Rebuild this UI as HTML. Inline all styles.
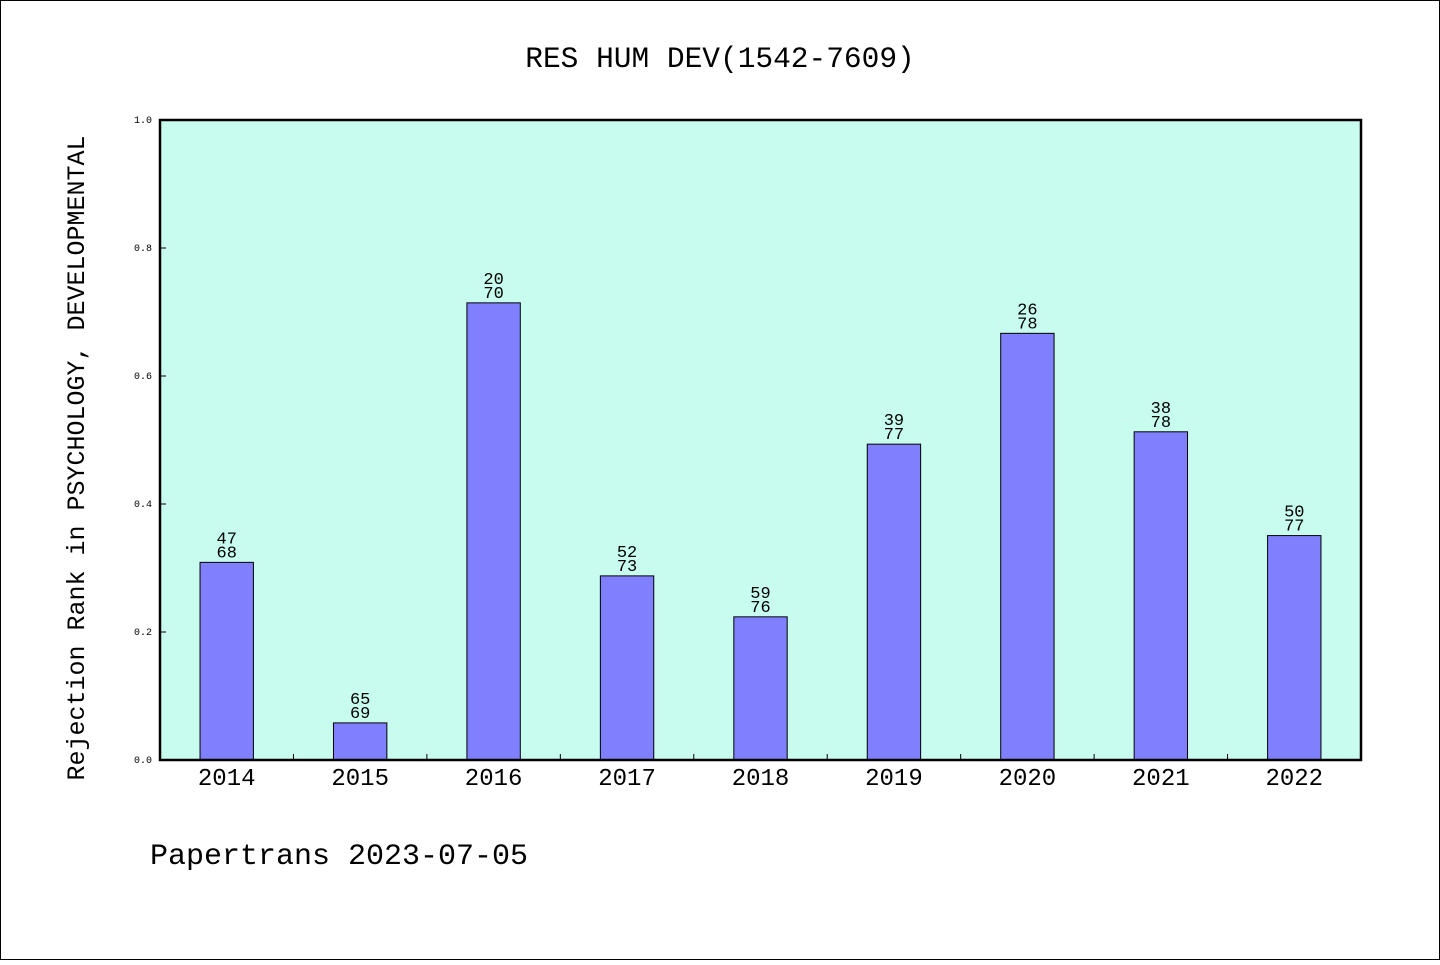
<!DOCTYPE html>
<html><head><meta charset="utf-8"><style>
body{margin:0;background:#fff}
svg text{font-family:"Liberation Mono","WenQuanYi Zen Hei",monospace;fill:#000}
</style></head><body>
<svg width="1440" height="960" viewBox="0 0 1440 960">
<rect x="0.5" y="0.5" width="1439" height="959" fill="#fff" stroke="#000"/>
<text x="720" y="67" text-anchor="middle" font-size="29.5">RES HUM DEV(1542-7609)</text>
<rect x="160" y="120" width="1201" height="640" fill="#c8fcee"/>
<g id="bars"></g>
<rect x="160" y="120" width="1201" height="640" fill="none" stroke="#000" stroke-width="2.5"/>
<text transform="translate(84,458) rotate(-90)" text-anchor="middle" font-size="25">Rejection Rank in PSYCHOLOGY, DEVELOPMENTAL</text>
<text x="150" y="864" font-size="30">Papertrans 2023-07-05</text>
</svg>
<script>
const years=["2014","2015","2016","2017","2018","2019","2020","2021","2022"];
const ranks=[47,65,20,52,59,39,26,38,50];
const totals=[68,69,70,73,76,77,78,78,77];
const yTicks=[0,0.2,0.4,0.6,0.8,1.0];
const NS="http://www.w3.org/2000/svg";
const g=document.getElementById('bars');
const x0=160,x1=1361,y0=760,y1=120;
const slot=(x1-x0)/years.length;
const yS=v=>y0-(y0-y1)*v;
const xC=i=>x0+slot*(i+0.5);
function mk(t,a,txt){const e=document.createElementNS(NS,t);for(const k in a)e.setAttribute(k,a[k]);if(txt!==undefined)e.textContent=txt;g.appendChild(e);return e;}
yTicks.forEach(v=>{
 const l=mk('line',{x1:x0,x2:x0+6,y1:yS(v),y2:yS(v),stroke:'#000'});
 
 
 const t=mk('text',{x:x0-8,y:yS(v)+3,'text-anchor':'end','font-size':10},v.toFixed(1));
 
 
});
for(let i=1;i<years.length;i++){
 const l=mk('line',{x1:x0+slot*i,x2:x0+slot*i,y1:y0,y2:y0-6,stroke:'#000'});
 
 
}
years.forEach((yr,i)=>{
 const v=1-ranks[i]/totals[i];
 const w=slot*0.4;
 const r=mk('rect',{x:xC(i)-w/2,y:yS(v),width:w,height:y0-yS(v),fill:'#8080ff',stroke:'#000','stroke-width':1});
 
 
 const a=mk('text',{x:xC(i),y:yS(v)-19,'text-anchor':'middle','font-size':17},String(ranks[i]));
 
 
 const b=mk('text',{x:xC(i),y:yS(v)-5,'text-anchor':'middle','font-size':17},String(totals[i]));
 
 
 const t=mk('text',{x:xC(i),y:785,'text-anchor':'middle','font-size':24},yr);
 
 
});
</script>
</body></html>
